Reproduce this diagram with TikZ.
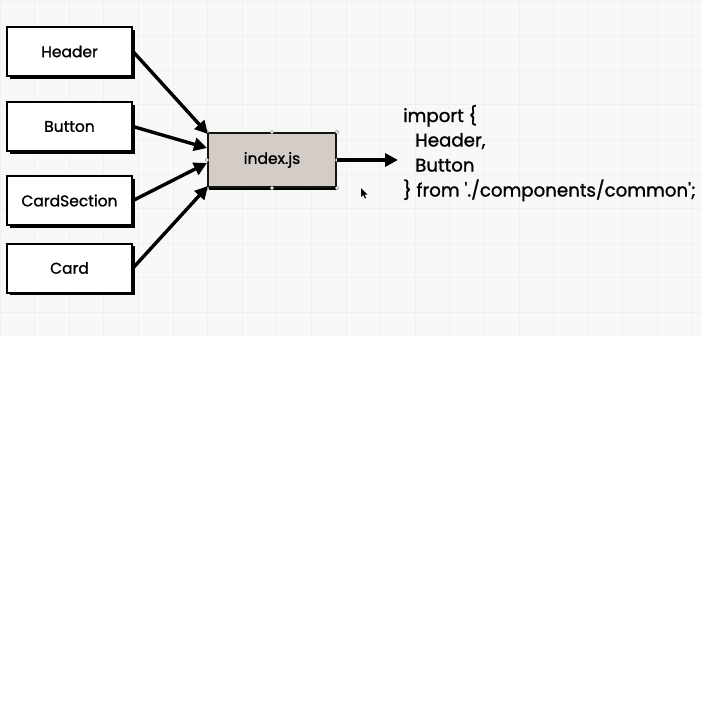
\documentclass[tikz,border=0pt]{standalone}
\usepackage{fontspec}
\setmainfont{Poppins}[FakeBold=1.2]
\usetikzlibrary{arrows.meta,shadows,calc}
\definecolor{bgpaper}{HTML}{F8F8F6}
\definecolor{gridc}{HTML}{F0F0EE}
\definecolor{idxfill}{HTML}{D4CCC6}
\tikzset{
  comp/.style={draw=black, line width=2pt, fill=white, minimum width=125pt, minimum height=49pt,
    inner sep=0pt, font=\fontsize{15.5}{18}\selectfont,
    drop shadow={shadow xshift=2.6pt, shadow yshift=-2.8pt, fill=black, opacity=1}},
  idxbox/.style={draw=black!90!idxfill, line width=2pt, fill=idxfill, minimum width=128pt, minimum height=54pt,
    inner sep=0pt, font=\fontsize{15.5}{18}\selectfont,
    drop shadow={shadow xshift=1pt, shadow yshift=-3pt, fill=black, opacity=1}},
  link/.style={line width=3.4pt, -{Triangle[length=13pt,width=13pt]}},
  codeline/.style={anchor=base west, inner sep=0pt, font=\fontsize{18.2}{20}\selectfont},
  handle/.style={circle, draw=black!45, fill=white, line width=0.4pt, inner sep=0pt, minimum size=3.5pt}
}
\begin{document}
\begin{tikzpicture}[x=1pt,y=-1pt]
\useasboundingbox (0,0) rectangle (702,716);
\fill[white] (0,0) rectangle (702,716);
\fill[bgpaper] (0,0) rectangle (702,336);
\begin{scope}
\clip (0,0) rectangle (702,336);
\foreach \k in {0,...,20} {
  \draw[gridc, line width=0.8pt] ({34.6*\k},0) -- ({34.6*\k},336);
}
\foreach \k in {0,...,9} {
  \draw[gridc, line width=0.8pt] (0,{1+34.6*\k}) -- (702,{1+34.6*\k});
}
\end{scope}

\node[comp] (hdr) at (69.5,51.5) {Header};
\node[comp] (btn) at (69.5,126.5) {Button};
\node[comp] (cs) at (69.5,200.5) {CardSection};
\node[comp] (crd) at (69.5,268) {Card};

\node[idxbox] (idx) at (272,160) {index.js};

\foreach \a in {north west, north, north east, east, south east, south, south west, west}
  \node[handle] at (idx.\a) {};

\draw[link] (hdr.east) -- ($(idx.north west)+(1,2)$);
\draw[link] (btn.east) -- ($(idx.west)+(0,-12)$);
\draw[link] (cs.east) -- ($(idx.west)+(0,3)$);
\draw[link] (crd.east) -- ($(idx.south west)+(1,-2)$);

\coordinate (codeend) at (398,160);
\draw[link] (idx.east) -- (codeend);

\node[codeline] (c1) at (403,122) {import \{};
\node[codeline] (c2) at (415,146.5) {Header,};
\node[codeline] (c3) at (415,171.5) {Button};
\node[codeline] (c4) at (403,196.5) {\} from \textquotesingle./components/common\textquotesingle;};

\fill[black] (361,188) -- (361,197) -- (363.2,195) -- (365,198.5) -- (366.2,198) -- (364.5,194.5) -- (367.5,194.5) -- cycle;
\end{tikzpicture}
\end{document}
